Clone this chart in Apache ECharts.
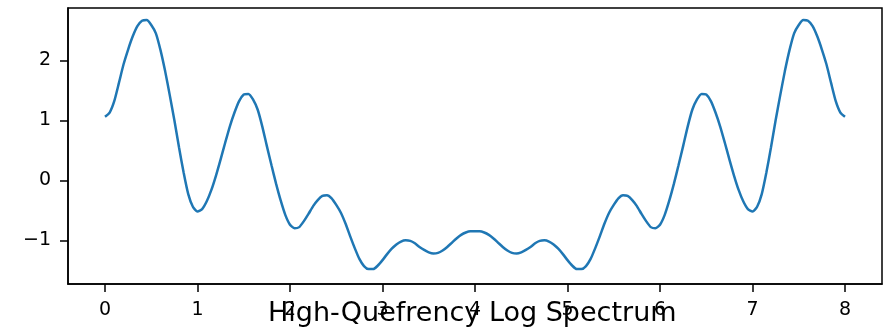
<!DOCTYPE html>
<html>
<head>
<meta charset="utf-8">
<script src="https://cdn.jsdelivr.net/npm/echarts@6/dist/echarts.min.js"></script>
<style>
  html, body { margin: 0; padding: 0; background: #fff; }
  #chart { width: 886px; height: 332px; }
</style>
</head>
<body>
<div id="chart"></div>
<script>
// Quefrency samples (step 0.05) and the log-spectrum magnitude at each one
const quefrency = [
  0.00, 0.05, 0.10, 0.15, 0.20, 0.25, 0.30, 0.35, 0.40, 0.45,
  0.50, 0.55, 0.60, 0.65, 0.70, 0.75, 0.80, 0.85, 0.90, 0.95,
  1.00, 1.05, 1.10, 1.15, 1.20, 1.25, 1.30, 1.35, 1.40, 1.45,
  1.50, 1.55, 1.60, 1.65, 1.70, 1.75, 1.80, 1.85, 1.90, 1.95,
  2.00, 2.05, 2.10, 2.15, 2.20, 2.25, 2.30, 2.35, 2.40, 2.45,
  2.50, 2.55, 2.60, 2.65, 2.70, 2.75, 2.80, 2.85, 2.90, 2.95,
  3.00, 3.05, 3.10, 3.15, 3.20, 3.25, 3.30, 3.35, 3.40, 3.45,
  3.50, 3.55, 3.60, 3.65, 3.70, 3.75, 3.80, 3.85, 3.90, 3.95,
  4.00, 4.05, 4.10, 4.15, 4.20, 4.25, 4.30, 4.35, 4.40, 4.45,
  4.50, 4.55, 4.60, 4.65, 4.70, 4.75, 4.80, 4.85, 4.90, 4.95,
  5.00, 5.05, 5.10, 5.15, 5.20, 5.25, 5.30, 5.35, 5.40, 5.45,
  5.50, 5.55, 5.60, 5.65, 5.70, 5.75, 5.80, 5.85, 5.90, 5.95,
  6.00, 6.05, 6.10, 6.15, 6.20, 6.25, 6.30, 6.35, 6.40, 6.45,
  6.50, 6.55, 6.60, 6.65, 6.70, 6.75, 6.80, 6.85, 6.90, 6.95,
  7.00, 7.05, 7.10, 7.15, 7.20, 7.25, 7.30, 7.35, 7.40, 7.45,
  7.50, 7.55, 7.60, 7.65, 7.70, 7.75, 7.80, 7.85, 7.90, 7.95,
  8.00
];
const logSpectrum = [
  1.06, 1.13, 1.32, 1.62, 1.93, 2.18, 2.40, 2.57, 2.66, 2.67,
  2.59, 2.45, 2.17, 1.82, 1.42, 1.00, 0.55, 0.13, -0.23, -0.44,
  -0.52, -0.48, -0.35, -0.16, 0.08, 0.35, 0.63, 0.90, 1.13, 1.32,
  1.43, 1.44, 1.35, 1.18, 0.90, 0.57, 0.25, -0.06, -0.34, -0.58,
  -0.74, -0.80, -0.78, -0.68, -0.56, -0.43, -0.33, -0.26, -0.25, -0.30,
  -0.41, -0.54, -0.72, -0.93, -1.13, -1.31, -1.43, -1.48, -1.48, -1.42,
  -1.33, -1.23, -1.14, -1.07, -1.02, -1.00, -1.01, -1.05, -1.11, -1.16,
  -1.20, -1.22, -1.21, -1.17, -1.11, -1.04, -0.97, -0.91, -0.87, -0.85,
  -0.85, -0.85, -0.87, -0.91, -0.97, -1.04, -1.11, -1.17, -1.21, -1.22,
  -1.20, -1.16, -1.11, -1.05, -1.01, -1.00, -1.02, -1.07, -1.14, -1.23,
  -1.33, -1.42, -1.48, -1.48, -1.43, -1.31, -1.13, -0.93, -0.72, -0.54,
  -0.41, -0.30, -0.25, -0.26, -0.33, -0.43, -0.56, -0.68, -0.78, -0.80,
  -0.74, -0.58, -0.34, -0.06, 0.25, 0.57, 0.90, 1.18, 1.35, 1.44,
  1.43, 1.32, 1.13, 0.90, 0.63, 0.35, 0.08, -0.16, -0.35, -0.48,
  -0.52, -0.44, -0.23, 0.13, 0.55, 1.00, 1.42, 1.82, 2.17, 2.45,
  2.59, 2.67, 2.66, 2.57, 2.40, 2.18, 1.93, 1.62, 1.32, 1.13,
  1.06
];
const xTicks = [0, 1, 2, 3, 4, 5, 6, 7, 8];
const yTicks = [-1, 0, 1, 2];
const titleText = 'High-Quefrency Log Spectrum';

const points = quefrency.map((q, i) => [q, logSpectrum[i]]);

const chart = echarts.init(document.getElementById('chart'), null, { renderer: 'canvas' });
const font = 'DejaVu Sans';
chart.setOption({
  animation: false,
  backgroundColor: '#ffffff',
  title: {
    text: titleText,
    left: 268,
    top: 300,
    padding: 0,
    textStyle: { fontFamily: font, fontSize: 27, fontWeight: 'normal', color: '#000' }
  },
  grid: {
    left: 68, right: 4, top: 8, bottom: 48,
    show: true, borderColor: '#000', borderWidth: 1.5, backgroundColor: '#fff'
  },
  xAxis: {
    type: 'value', min: -0.4, max: 8.4,
    axisLine: { show: true, onZero: false, lineStyle: { color: '#000', width: 1.5 } },
    axisTick: { show: true, length: 8, customValues: xTicks, lineStyle: { color: '#000', width: 1.5 } },
    axisLabel: { customValues: xTicks, margin: 17, fontFamily: font, fontSize: 19, color: '#000' },
    splitLine: { show: false }
  },
  yAxis: {
    type: 'value', min: -1.728, max: 2.872,
    axisLine: { show: true, onZero: false, lineStyle: { color: '#000', width: 1.5 } },
    axisTick: { show: true, length: 8, customValues: yTicks, lineStyle: { color: '#000', width: 1.5 } },
    axisLabel: {
      customValues: yTicks, margin: 17, fontFamily: font, fontSize: 19, color: '#000',
      formatter: v => (v < 0 ? '\u2212' + Math.abs(v) : String(v))
    },
    splitLine: { show: false }
  },
  series: [{
    type: 'line',
    data: points,
    smooth: 0.2,
    symbol: 'none',
    lineStyle: { color: '#1f77b4', width: 2.5 }
  }]
});
</script>
</body>
</html>
